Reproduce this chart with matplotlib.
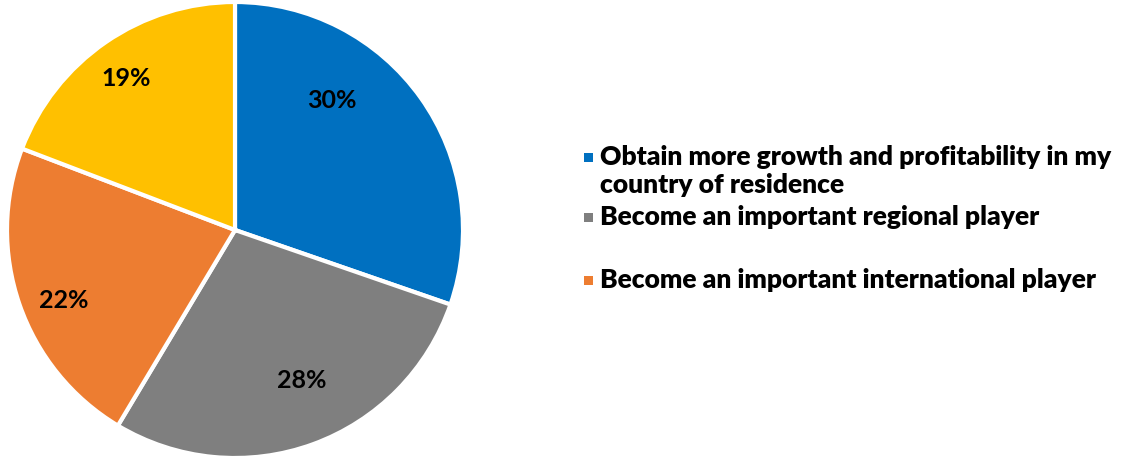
import matplotlib
matplotlib.use("Agg")
import matplotlib.pyplot as plt
from matplotlib.patches import Rectangle
import numpy as np

categories = [
    "Obtain more growth and profitability in my\ncountry of residence",
    "Become an important regional player",
    "Become an important international player",
    "Other",
]
values = [30, 28, 22, 19]
colors = ["#0070C0", "#7F7F7F", "#ED7D31", "#FFC000"]
legend_count = 3

plt.rcParams['font.family'] = ['Lato', 'DejaVu Sans']

W, H = 1127, 460
fig = plt.figure(figsize=(W / 100, H / 100), dpi=100)
cx, cy, R = 235, 229, 228
ax = fig.add_axes([(cx - R) / W, (cy - R) / H, 2 * R / W, 2 * R / H])
wedges, texts, autotexts = ax.pie(
    values, colors=colors, startangle=90, counterclock=False,
    autopct=lambda p: f"{p:.0f}%", pctdistance=0.78,
    wedgeprops=dict(edgecolor="white", linewidth=3),
    textprops=dict(fontsize=18, fontweight="bold", color="black"),
    normalize=True,
)
ax.set_aspect("auto")
ax.set_xlim(-1, 1)
ax.set_ylim(-1, 1)

# Excel-like label positions: angle shift (deg) and radial distance
label_angle_shift = [18, 4, 3, 1]
label_dist = [0.71, 0.72, 0.81, 0.82]
total = sum(values)
start = 90.0
for i, v in enumerate(values):
    span = 360.0 * v / total
    mid = start - span / 2 + label_angle_shift[i]
    r = label_dist[i]
    autotexts[i].set_position((r * np.cos(np.radians(mid)), r * np.sin(np.radians(mid))))
    start -= span

# legend (manual, Excel style)
legend_y = [157, 217, 280]
text_x = 600
box = 9
for i in range(legend_count):
    y = legend_y[i]
    fig.patches.append(Rectangle(((text_x - 16) / W, (H - y - box / 2 - 1) / H), box / W, box / H,
                                 transform=fig.transFigure, facecolor=colors[i], edgecolor="none"))
    fig.text(text_x / W, (H - y + 12) / H, categories[i], fontsize=19, fontweight="heavy",
             va="top", ha="left", linespacing=1.2)

fig.savefig("out.png", dpi=100)
